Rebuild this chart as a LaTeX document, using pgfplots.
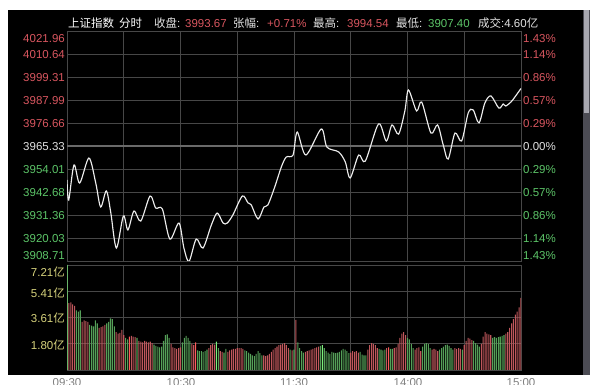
\documentclass[border=0pt]{standalone}
\usepackage{pgfplots}
\pgfplotsset{compat=1.18}
\usepackage{fontspec}
\setmainfont{Liberation Sans}
\newfontfamily\cjk{Noto Sans CJK SC}
\definecolor{gridc}{HTML}{474747}
\definecolor{zeroc}{HTML}{6A6A6A}
\definecolor{redl}{HTML}{D8565F}
\definecolor{greenl}{HTML}{5CC468}
\definecolor{whitel}{HTML}{E2E2E2}
\definecolor{yell}{HTML}{D6D27C}
\definecolor{barred}{HTML}{C0575C}
\definecolor{bargreen}{HTML}{55A058}
\definecolor{brred}{HTML}{FF5A5A}
\definecolor{brgreen}{HTML}{7CF07C}
\definecolor{linec}{HTML}{EDEDED}
\definecolor{sbdark}{HTML}{4C4C54}
\definecolor{sblight}{HTML}{A8A8B0}
\begin{document}
\begin{tikzpicture}[
  lab/.style={font=\fontsize{11.5}{13}\selectfont, inner sep=0pt}]
\useasboundingbox (0pt,0pt) rectangle (600pt,385pt);
\fill[white] (0pt,0pt) rectangle (600pt,385pt);
\fill[black] (8pt,10pt) rectangle (583pt,375pt);
\fill[sbdark] (583pt,10pt) rectangle (590pt,375pt);
\fill[sblight] (584pt,272pt) rectangle (589pt,375pt);
% price panel
\begin{axis}[at={(67pt,124pt)}, anchor=south west, scale only axis,
  width=454pt, height=230pt,
  xmin=0, xmax=240, ymin=3908.71, ymax=4021.96,
  xtick={0,30,...,240}, xticklabels={},
  ytick={3908.71,3920.03,3931.36,3942.68,3954.01,3965.33,3976.66,3987.99,3999.31,4010.64,4021.96},
  yticklabels={},
  grid=major, major grid style={draw=gridc, line width=0.9pt},
  axis line style={draw=gridc, line width=0.9pt},
  tick style={draw=none}]
\addplot[zeroc, line width=2.6pt] coordinates {(0,3965.33) (240,3965.33)};
\addplot[linec, line width=1.15pt, smooth, tension=0.5] coordinates {
(0,3948.6) (0.9,3938.7) (3.7,3956.0) (6.7,3947.1) (11.6,3959.4) (15.2,3947.1)
(17.8,3935.3) (20.8,3943.2) (23.1,3932.8) (26.1,3915.1) (29.8,3930.9) (32.2,3924.0)
(35.4,3933.3) (39.0,3928.4) (43.9,3940.7) (46.9,3934.8) (50.4,3934.3) (54.4,3919.5)
(59.2,3927.4) (61.8,3915.1) (64.5,3908.5) (68.3,3919.5) (71.9,3915.1) (76.3,3926.4)
(79.4,3932.3) (82.5,3927.4) (84.7,3927.4) (87.7,3931.4) (92.7,3940.7) (95.7,3937.3)
(97.4,3936.3) (101.0,3929.4) (104.1,3935.3) (106.2,3936.3) (109.8,3945.1) (113.3,3955.0)
(115.9,3959.9) (119.5,3960.9) (121.7,3972.2) (126.3,3960.9) (134.4,3973.7) (137.4,3964.8)
(143.6,3962.4) (147.1,3957.5) (149.7,3949.6) (154.2,3960.9) (157.7,3957.9) (164.7,3976.2)
(168.8,3967.8) (171.8,3975.7) (175.3,3971.2) (178.6,3982.6) (180.5,3992.9) (184.8,3982.6)
(187.5,3987.0) (192.4,3971.7) (195.9,3975.7) (198.9,3965.8) (201.5,3958.9) (205.1,3971.7)
(208.6,3967.8) (212.1,3981.6) (214.7,3983.1) (217.8,3976.7) (220.9,3986.5) (224.1,3990.0)
(228.3,3984.0) (230.6,3986.0) (231.9,3985.0) (234.7,3987.0) (236.8,3989.5) (240,3993.67)};
\end{axis}
% volume panel
\begin{axis}[at={(67pt,15pt)}, anchor=south west, scale only axis,
  width=454pt, height=105pt,
  xmin=0, xmax=240, ymin=0, ymax=7.21,
  xtick={0,30,...,240}, xticklabels={},
  ytick={0,1.80,3.61,5.41,7.21}, yticklabels={},
  grid=major, major grid style={draw=gridc, line width=0.9pt},
  axis line style={draw=gridc, line width=0.9pt},
  tick style={draw=none},
  ybar, bar width=1.05pt]
\addplot[fill=barred, draw=none, bar shift=0pt] coordinates {
(1,4.6) (2,4.65) (3,4.5) (4,4.4) (8,3.3) (9,3.4) (10,3.35) (11,3.3) (17,2.9) (18,2.95)
(19,3.0) (20,3.1) (26,2.6) (27,2.5) (28,2.55) (29,2.75) (30,2.4) (34,2.35) (35,2.3) (36,2.25)
(38,2.0) (39,1.95) (40,1.9) (41,2.0) (42,1.95) (43,1.9) (44,1.95) (45,1.85) (55,1.8) (56,1.55)
(57,1.5) (58,1.45) (59,1.5) (60,1.55) (66,1.8) (67,1.7) (75,1.5) (76,1.7) (77,1.8) (78,1.75)
(81,1.3) (82,1.25) (85,1.25) (86,1.35) (87,1.4) (88,1.45) (89,1.45) (90,1.5) (91,1.5) (92,1.5)
(93,1.45) (104,1.0) (105,0.95) (106,1.0) (107,1.1) (108,1.25) (109,1.4) (110,1.5) (111,1.6)
(112,1.7) (113,1.75) (114,1.8) (115,1.85) (116,1.7) (117,1.5) (119,1.35) (121,3.45) (126,1.25)
(127,1.3) (128,1.35) (129,1.4) (130,1.45) (131,1.5) (132,1.55) (133,1.6) (150,1.2) (151,1.3)
(152,1.25) (153,1.3) (154,1.2) (159,1.4) (160,1.7) (161,1.85) (162,1.8) (163,1.7) (164,1.5)
(169,1.5) (173,1.5) (174,1.55) (175,1.8) (176,2.2) (177,2.5) (178,2.6) (179,2.4) (184,1.4)
(185,1.5) (186,1.55) (187,1.3) (193,1.4) (194,1.45) (195,1.4) (196,1.3) (205,1.5) (206,1.45)
(207,1.5) (208,1.45) (210,1.7) (211,2.0) (212,2.2) (213,2.15) (214,2.05) (219,1.8) (220,2.3)
(221,2.6) (222,2.5) (223,2.45) (224,2.4) (232,2.5) (233,2.6) (234,2.9) (235,3.2) (236,3.5)
(237,3.8) (238,4.0) (239,4.3) (240,4.95)};
\addplot[fill=brred, draw=none, bar shift=0pt] coordinates {(33,2.3) (68,1.9) (170,1.55)};
\addplot[fill=bargreen, draw=none, bar shift=0pt] coordinates {
(5,4.1) (6,4.0) (7,4.1) (12,3.1) (13,3.05) (14,3.0) (15,3.4) (16,3.2) (21,3.2) (22,3.3)
(23,3.55) (24,3.5) (25,3.0) (31,2.2) (32,2.1) (37,2.2) (46,1.75) (47,1.65) (48,1.6) (49,1.55)
(50,1.6) (51,2.0) (52,2.4) (53,2.45) (54,2.2) (61,1.9) (62,2.2) (63,2.35) (64,2.2) (65,2.0)
(69,1.35) (70,1.3) (71,1.3) (72,1.25) (73,1.3) (74,1.4) (80,1.5) (83,1.2) (84,1.45) (94,1.35)
(95,1.3) (96,1.2) (97,1.1) (98,1.0) (99,0.95) (100,1.1) (101,1.3) (102,1.15) (103,1.0)
(118,1.4) (120,1.4) (122,1.9) (123,1.5) (124,1.3) (125,1.2) (134,1.65) (136,1.5) (137,1.3)
(138,1.2) (139,1.1) (140,1.25) (141,1.2) (142,1.15) (143,1.2) (144,1.25) (145,1.35) (146,1.45)
(147,1.4) (148,1.3) (149,1.15) (155,1.25) (156,1.05) (157,1.0) (158,1.0) (165,1.45) (166,1.4)
(167,1.35) (168,1.4) (171,1.45) (172,1.45) (180,2.2) (181,2.1) (182,1.8) (183,1.5) (188,1.6)
(189,1.8) (190,1.85) (191,1.8) (192,1.5) (197,1.4) (198,1.5) (199,1.6) (200,1.7) (201,1.75)
(202,1.65) (203,1.5) (204,1.4) (209,1.4) (215,2.0) (216,1.85) (217,1.75) (218,1.6) (225,2.2)
(226,2.25) (227,2.2) (228,2.25) (230,2.35) (231,2.4)};
\addplot[fill=brgreen, draw=none, bar shift=0pt] coordinates {(0,7.21) (79,1.95) (135,1.7) (229,2.3)};
\end{axis}
% title
\node[lab, anchor=base west, text=white] at (68pt,357.7pt) {\cjk 上证指数};
\node[lab, anchor=base west, text=white] at (119pt,357.7pt) {\cjk 分时};
\node[lab, anchor=base west, text=whitel] at (154pt,357.7pt) {{\cjk 收盘}:};
\node[lab, anchor=base west, text=redl] at (185pt,357.7pt) {3993.67};
\node[lab, anchor=base west, text=whitel] at (233pt,357.7pt) {{\cjk 张幅}:};
\node[lab, anchor=base west, text=redl] at (267pt,357.7pt) {+0.71\%};
\node[lab, anchor=base west, text=whitel] at (313pt,357.7pt) {{\cjk 最高}:};
\node[lab, anchor=base west, text=redl] at (347pt,357.7pt) {3994.54};
\node[lab, anchor=base west, text=whitel] at (396pt,357.7pt) {{\cjk 最低}:};
\node[lab, anchor=base west, text=greenl] at (428pt,357.7pt) {3907.40};
\node[lab, anchor=base west, text=whitel] at (478pt,357.7pt) {{\cjk 成交}:4.60{\cjk 亿}};
% left price labels
\node[lab, anchor=base east, text=redl] at (65pt,342.9pt) {4021.96};
\node[lab, anchor=base east, text=redl] at (65pt,326.9pt) {4010.64};
\node[lab, anchor=base east, text=redl] at (65pt,303.9pt) {3999.31};
\node[lab, anchor=base east, text=redl] at (65pt,280.9pt) {3987.99};
\node[lab, anchor=base east, text=redl] at (65pt,257.9pt) {3976.66};
\node[lab, anchor=base east, text=whitel] at (65pt,234.9pt) {3965.33};
\node[lab, anchor=base east, text=greenl] at (65pt,211.9pt) {3954.01};
\node[lab, anchor=base east, text=greenl] at (65pt,188.9pt) {3942.68};
\node[lab, anchor=base east, text=greenl] at (65pt,165.9pt) {3931.36};
\node[lab, anchor=base east, text=greenl] at (65pt,142.9pt) {3920.03};
\node[lab, anchor=base east, text=greenl] at (65pt,125.9pt) {3908.71};
% right percent labels
\node[lab, anchor=base west, text=redl] at (523pt,342.9pt) {1.43\%};
\node[lab, anchor=base west, text=redl] at (523pt,326.9pt) {1.14\%};
\node[lab, anchor=base west, text=redl] at (523pt,303.9pt) {0.86\%};
\node[lab, anchor=base west, text=redl] at (523pt,280.9pt) {0.57\%};
\node[lab, anchor=base west, text=redl] at (523pt,257.9pt) {0.29\%};
\node[lab, anchor=base west, text=whitel] at (523pt,234.9pt) {0.00\%};
\node[lab, anchor=base west, text=greenl] at (523pt,211.9pt) {0.29\%};
\node[lab, anchor=base west, text=greenl] at (523pt,188.9pt) {0.57\%};
\node[lab, anchor=base west, text=greenl] at (523pt,165.9pt) {0.86\%};
\node[lab, anchor=base west, text=greenl] at (523pt,142.9pt) {1.14\%};
\node[lab, anchor=base west, text=greenl] at (523pt,125.9pt) {1.43\%};
% volume labels
\node[lab, anchor=base east, text=yell] at (65pt,108.9pt) {7.21{\cjk 亿}};
\node[lab, anchor=base east, text=yell] at (65pt,87.9pt) {5.41{\cjk 亿}};
\node[lab, anchor=base east, text=yell] at (65pt,62.9pt) {3.61{\cjk 亿}};
\node[lab, anchor=base east, text=yell] at (65pt,35.9pt) {1.80{\cjk 亿}};
% time labels (cut by the lower edge, as in the reference)
\node[lab, anchor=base, text=gray] at (67pt,-1.5pt) {09:30};
\node[lab, anchor=base, text=gray] at (181pt,-1.5pt) {10:30};
\node[lab, anchor=base, text=gray] at (294pt,-1.5pt) {11:30};
\node[lab, anchor=base, text=gray] at (408pt,-1.5pt) {14:00};
\node[lab, anchor=base, text=gray] at (521pt,-1.5pt) {15:00};
\end{tikzpicture}
\end{document}
